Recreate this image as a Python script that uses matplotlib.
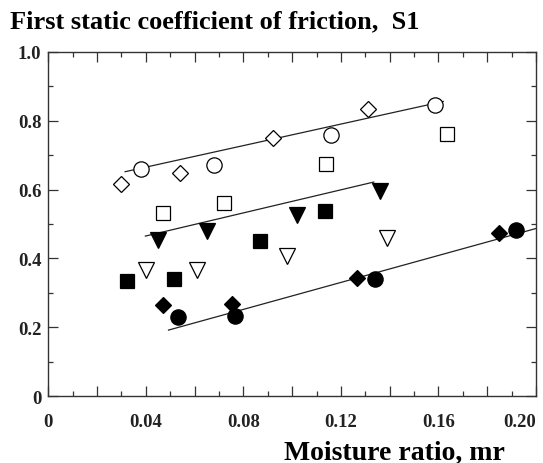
import matplotlib
matplotlib.use("Agg")
import matplotlib.pyplot as plt
from matplotlib.ticker import MultipleLocator, FixedLocator

# moisture ratio / friction coefficient
open_diamond_x = [0.030, 0.054, 0.092, 0.131]
open_diamond_y = [0.616, 0.648, 0.750, 0.834]
open_circle_x = [0.038, 0.068, 0.116, 0.1585]
open_circle_y = [0.660, 0.671, 0.759, 0.846]
open_square_x = [0.047, 0.072, 0.114, 0.1635]
open_square_y = [0.532, 0.561, 0.674, 0.762]
filled_tri_x = [0.045, 0.065, 0.102, 0.136]
filled_tri_y = [0.453, 0.480, 0.527, 0.596]
filled_square_x = [0.0324, 0.0517, 0.0867, 0.1134]
filled_square_y = [0.334, 0.340, 0.450, 0.538]
open_tri_x = [0.040, 0.061, 0.0977, 0.1388]
open_tri_y = [0.366, 0.366, 0.406, 0.459]
filled_diamond_x = [0.0472, 0.0752, 0.1265, 0.1848]
filled_diamond_y = [0.264, 0.267, 0.343, 0.474]
filled_circle_x = [0.053, 0.0764, 0.1339, 0.192]
filled_circle_y = [0.230, 0.232, 0.340, 0.482]

# fitted lines (end points)
top_line_x = [0.0315, 0.162]
top_line_y = [0.652, 0.856]
mid_line_x = [0.0398, 0.1335]
mid_line_y = [0.465, 0.622]
low_line_x = [0.0493, 0.200]
low_line_y = [0.192, 0.487]

x_ticks = [0, 0.02, 0.04, 0.06, 0.08, 0.10, 0.12, 0.14, 0.16, 0.18, 0.20]
x_labels = ["0", "", "0.04", "", "0.08", "", "0.12", "", "0.16", "", "0.20"]
y_ticks = [0, 0.2, 0.4, 0.6, 0.8, 1.0]
y_labels = ["0", "0.2", "0.4", "0.6", "0.8", "1.0"]

plt.rcParams['font.family'] = ['Liberation Serif', 'DejaVu Serif']
plt.rcParams['font.weight'] = 'bold'

fig = plt.figure(figsize=(5.43, 4.64), dpi=100)
ax = fig.add_axes([0.089, 0.144, 0.898, 0.742])

lc = '#222222'
ax.plot(top_line_x, top_line_y, color=lc, lw=0.9)
ax.plot(mid_line_x, mid_line_y, color=lc, lw=0.9)
ax.plot(low_line_x, low_line_y, color=lc, lw=0.9)

ek = dict(linestyle='none', markeredgecolor='black', markeredgewidth=0.9)
ax.plot(open_diamond_x, open_diamond_y, marker='D', ms=8.5, mfc='white', **ek)
ax.plot(open_circle_x, open_circle_y, marker='o', ms=11, mfc='white', **ek)
ax.plot(open_square_x, open_square_y, marker='s', ms=9.5, mfc='white', **ek)
ax.plot(filled_tri_x, filled_tri_y, marker='v', ms=12, mfc='black', **ek)
ax.plot(filled_square_x, filled_square_y, marker='s', ms=9.5, mfc='black', **ek)
ax.plot(open_tri_x, open_tri_y, marker='v', ms=12, mfc='white', **ek)
ax.plot(filled_diamond_x, filled_diamond_y, marker='D', ms=8.5, mfc='black', **ek)
ax.plot(filled_circle_x, filled_circle_y, marker='o', ms=11, mfc='black', **ek)

ax.set_xlim(0, 0.20)
ax.set_ylim(0, 1.0)
ax.xaxis.set_major_locator(FixedLocator(x_ticks))
ax.set_xticklabels(x_labels)
ax.xaxis.set_minor_locator(MultipleLocator(0.01))
ax.yaxis.set_major_locator(FixedLocator(y_ticks))
ax.set_yticklabels(y_labels)
ax.yaxis.set_minor_locator(MultipleLocator(0.1))
ax.tick_params(which='both', direction='in', top=True, right=True,
               labelsize=13.5, colors='#333333', labelcolor='#222222', width=0.9)
ax.tick_params(which='major', length=7)
ax.tick_params(which='minor', length=3.5)
ax.tick_params(axis='x', pad=12)
ax.tick_params(axis='y', pad=5)
ax.get_xticklabels()[-1].set_horizontalalignment('right')
for sp in ax.spines.values():
    sp.set_linewidth(1.0)
    sp.set_color('#333333')

fig.text(0.018, 0.94, "First static coefficient of friction,  S1",
         fontsize=19, fontweight='bold', va='baseline', ha='left')
fig.text(0.93, 0.01, "Moisture ratio, mr",
         fontsize=20, fontweight='bold', va='baseline', ha='right')

fig.savefig("out.png", dpi=100, facecolor='white')
